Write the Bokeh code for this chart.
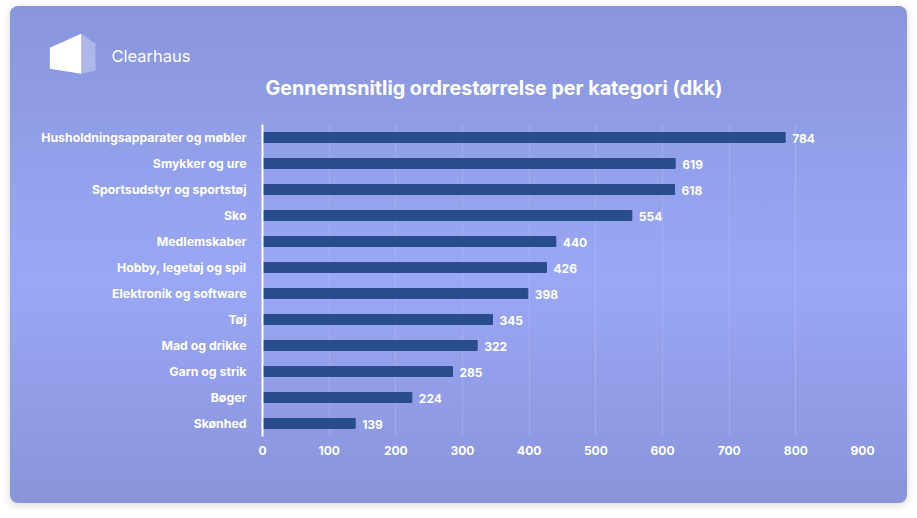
from bokeh.plotting import figure
from bokeh.layouts import column
from bokeh.models import ColumnDataSource, FactorRange, Range1d
from bokeh.core.properties import value
from bokeh.embed import file_html
from bokeh.resources import INLINE

categories = [
    "Husholdningsapparater og møbler",
    "Smykker og ure",
    "Sportsudstyr og sportstøj",
    "Sko",
    "Medlemskaber",
    "Hobby, legetøj og spil",
    "Elektronik og software",
    "Tøj",
    "Mad og drikke",
    "Garn og strik",
    "Bøger",
    "Skønhed",
]
values = [784, 619, 618, 554, 440, 426, 398, 345, 322, 285, 224, 139]
x_ticks = [0, 100, 200, 300, 400, 500, 600, 700, 800, 900]
title_text = "Gennemsnitlig ordrestørrelse per kategori (dkk)"
brand_text = "Clearhaus"

FONT = "Inter"
W = 897
HEAD_H = 100
CHART_H = 397

# ---------- header (logo, brand, title) ----------
head = figure(width=W, height=HEAD_H, x_range=Range1d(0, W), y_range=Range1d(HEAD_H, 0),
              output_backend="svg", toolbar_location=None,
              x_axis_type=None, y_axis_type=None,
              min_border=0, min_border_left=0, min_border_right=0,
              min_border_top=0, min_border_bottom=0)
head.frame_align = False
head.background_fill_color = None
head.border_fill_color = None
head.outline_line_color = None
head.grid.visible = False
head.patch([39.3, 70.7, 70.7, 39.3], [41.3, 27.3, 67.3, 62.3], fill_color="white", line_color=None)
head.patch([70.7, 85, 85, 70.7], [27.3, 37.3, 64, 67.3], fill_color="white", fill_alpha=0.3, line_color=None)
head.text(x=[101], y=[49], text=[brand_text], text_color="white", text_font=value(FONT),
          text_font_size="16.5px", text_align="left", text_baseline="middle")
head.text(x=[483.5], y=[81], text=[title_text], text_color="white", text_font=value(FONT),
          text_font_style="bold", text_font_size="19.7px", text_align="center", text_baseline="middle")

# ---------- chart ----------
src = ColumnDataSource(dict(cat=categories, val=values, lbl=[str(v) for v in values]))

p = figure(
    width=W, height=CHART_H,
    y_range=FactorRange(*reversed(categories), range_padding=0),
    x_range=Range1d(0, 900),
    output_backend="svg", toolbar_location=None,
    min_border_left=252, min_border_right=45, min_border_top=18, min_border_bottom=67,
)
p.frame_align = False
p.background_fill_color = None
p.border_fill_color = None
p.outline_line_color = None

p.hbar(y="cat", right="val", height=0.38, left=0, source=src, color="#294C8C")
p.text(x="val", y="cat", text="lbl", source=src, x_offset=7, y_offset=1,
       text_color="white", text_font=value(FONT), text_font_style="bold",
       text_font_size="12px", text_baseline="middle", text_align="left")

p.xaxis.ticker = x_ticks
p.xaxis.axis_line_color = None
p.xaxis.major_tick_line_color = None
p.xaxis.minor_tick_line_color = None
p.xaxis.major_label_text_color = "white"
p.xaxis.major_label_text_font = FONT
p.xaxis.major_label_text_font_style = "bold"
p.xaxis.major_label_text_font_size = "12px"
p.xaxis.major_label_standoff = 3

p.yaxis.axis_line_color = "white"
p.yaxis.axis_line_width = 2
p.yaxis.major_tick_line_color = None
p.yaxis.minor_tick_line_color = None
p.yaxis.major_label_text_color = "white"
p.yaxis.major_label_text_font = FONT
p.yaxis.major_label_text_font_style = "bold"
p.yaxis.major_label_text_font_size = "12.3px"
p.yaxis.major_label_standoff = 10

p.ygrid.grid_line_color = None
p.xgrid.ticker = x_ticks
p.xgrid.grid_line_color = "white"
p.xgrid.grid_line_alpha = 0.15

layout = column(head, p, spacing=0, styles={
    "background": "linear-gradient(to bottom, #8996DC 0%, #9AA7F5 55%, #8994DA 100%)",
    "border-radius": "8px",
    "box-shadow": "0 2px 10px rgba(0,0,0,0.16)",
    "margin-left": "10px",
    "margin-top": "6px",
})

open("out.html", "w").write(file_html(layout, INLINE))
